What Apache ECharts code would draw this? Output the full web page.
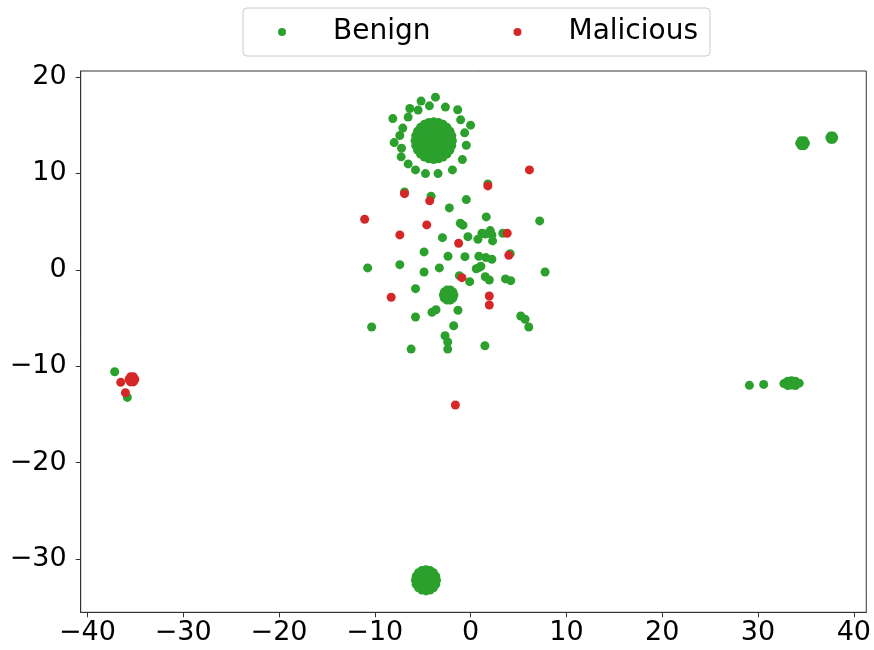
<!DOCTYPE html>
<html>
<head>
<meta charset="utf-8">
<script src="https://cdn.jsdelivr.net/npm/echarts@6/dist/echarts.min.js"></script>
<style>
  html, body { margin: 0; padding: 0; background: #fff; }
  #chart { width: 874px; height: 650px; }
</style>
</head>
<body>
<div id="chart"></div>
<script>
// Embedding coordinates of benign samples
const benignPoints = [
  // dense core of the upper cluster
  [-3.85, 13.38],
  [-3.20, 13.38], [-3.53, 13.94], [-4.18, 13.94], [-4.50, 13.38], [-4.18, 12.82], [-3.53, 12.82],
  [-2.55, 13.38], [-2.72, 14.03], [-3.20, 14.51], [-3.85, 14.68], [-4.50, 14.51], [-4.98, 14.03],
  [-5.15, 13.38], [-4.98, 12.73], [-4.50, 12.25], [-3.85, 12.08], [-3.20, 12.25], [-2.72, 12.73],
  [-1.90, 13.38], [-1.97, 13.89], [-2.16, 14.36], [-2.47, 14.76], [-2.88, 15.07], [-3.35, 15.26],
  [-3.85, 15.33], [-4.36, 15.26], [-4.83, 15.07], [-5.23, 14.76], [-5.54, 14.36], [-5.73, 13.89],
  [-5.80, 13.38], [-5.73, 12.87], [-5.54, 12.41], [-5.23, 12.00], [-4.83, 11.69], [-4.36, 11.50],
  [-3.85, 11.43], [-3.35, 11.50], [-2.88, 11.69], [-2.47, 12.00], [-2.16, 12.41], [-1.97, 12.87],
  // ring around the upper cluster
  [-3.67, 17.89], [-5.17, 17.48], [-6.35, 16.71], [-5.48, 16.55], [-4.30, 16.99], [-2.63, 16.86],
  [-1.35, 16.58], [-8.12, 15.67], [-6.52, 15.82], [-1.04, 15.54], [0.00, 14.99], [-7.08, 14.68],
  [-0.62, 14.19], [-7.39, 13.91], [-7.98, 13.18], [-0.45, 12.91], [-7.21, 12.60], [-7.25, 11.70],
  [-0.86, 11.42], [-6.52, 10.97], [-5.75, 10.35], [-1.90, 10.35], [-4.71, 9.97], [-3.40, 9.97],
  // central scatter
  [1.80, 8.90], [-6.90, 8.07], [-4.13, 7.62], [-0.45, 7.27], [-2.22, 6.41], [1.63, 5.48],
  [7.21, 5.06], [-1.07, 4.82], [-0.80, 4.62], [3.36, 3.79], [1.18, 3.79], [2.05, 4.06],
  [2.22, 3.61], [0.76, 3.16], [2.29, 2.99], [1.53, 3.71], [-0.28, 3.43], [-2.94, 3.33],
  [-4.86, 1.85], [-2.36, 1.40], [-0.59, 1.36], [0.86, 1.40], [1.59, 1.26], [2.22, 1.09],
  [4.13, 1.67], [-10.75, 0.19], [-7.39, 0.53], [-4.86, -0.23], [-3.26, 0.19], [0.86, 0.22],
  [0.59, 0.11], [1.07, 0.36], [7.77, -0.23], [-1.18, -0.61], [-0.10, -1.23], [1.53, -0.72],
  [1.95, -1.06], [3.64, -0.95], [4.19, -1.13], [-5.75, -1.96],
  // small clump below the centre
  [-2.29, -2.62], [-1.74, -2.62], [-1.85, -2.30], [-2.12, -2.10], [-2.46, -2.10], [-2.74, -2.30],
  [-2.84, -2.62], [-2.74, -2.94], [-2.46, -3.14], [-2.12, -3.14], [-1.85, -2.94],
  [-1.32, -4.20], [-4.03, -4.41], [-3.61, -4.14], [5.23, -4.79], [5.69, -5.13], [6.07, -5.93],
  [-5.75, -4.90], [-1.77, -5.80], [-10.33, -5.93], [-2.67, -6.84], [-2.39, -7.49], [-2.39, -8.22],
  [1.49, -7.87], [-6.21, -8.22],
  // lower cluster
  [-4.66, -32.18],
  [-4.11, -32.18], [-4.39, -31.70], [-4.94, -31.70], [-5.21, -32.18], [-4.94, -32.66], [-4.39, -32.66],
  [-3.56, -32.18], [-3.64, -31.76], [-3.88, -31.40], [-4.24, -31.16], [-4.66, -31.08], [-5.08, -31.16],
  [-5.44, -31.40], [-5.68, -31.76], [-5.76, -32.18], [-5.68, -32.60], [-5.44, -32.96], [-5.08, -33.20],
  [-4.66, -33.28], [-4.24, -33.20], [-3.88, -32.96], [-3.64, -32.60],
  // left group
  [-37.15, -10.57], [-35.83, -13.23],
  // right groups
  [34.65, 13.12], [34.95, 13.12], [34.80, 13.38], [34.50, 13.38], [34.35, 13.12], [34.50, 12.86], [34.80, 12.86],
  [37.70, 13.70], [37.90, 13.70], [37.80, 13.87], [37.60, 13.87], [37.50, 13.70], [37.60, 13.53], [37.80, 13.53],
  [29.10, -11.98], [30.59, -11.88],
  [32.70, -11.80], [33.10, -11.55], [33.10, -12.00], [33.50, -11.50], [33.50, -11.95],
  [33.90, -11.55], [33.90, -12.00], [34.30, -11.75]
];

// Embedding coordinates of malicious samples
const maliciousPoints = [
  [6.14, 10.35], [1.80, 8.69], [-6.90, 7.89], [-4.27, 7.14], [-11.06, 5.24], [-4.58, 4.65],
  [-7.39, 3.61], [3.82, 3.79], [-1.25, 2.75], [3.99, 1.50], [-0.91, -0.82], [1.95, -2.72],
  [1.95, -3.65], [-8.29, -2.85], [-1.59, -14.02],
  [-36.52, -11.67], [-36.03, -12.75],
  [-35.35, -11.36], [-35.05, -11.36], [-35.20, -11.10], [-35.50, -11.10], [-35.65, -11.36],
  [-35.50, -11.62], [-35.20, -11.62]
];

const seriesNames = ['Benign', 'Malicious'];
const xTicks = [-40, -30, -20, -10, 0, 10, 20, 30, 40];
const yTicks = [-30, -20, -10, 0, 10, 20];
const xRange = [-40.7, 41.3];
const yRange = [-35.5, 20.6];

const FONT = 'DejaVu Sans';
const minusSign = v => String(v).replace('-', '\u2212');

function valueAxis(range, ticks, isX) {
  return {
    type: 'value',
    min: range[0],
    max: range[1],
    splitLine: { show: false },
    axisLine: { show: true, onZero: false, lineStyle: { color: '#333', width: 1 } },
    axisTick: { show: true, inside: false, length: 5, customValues: ticks,
                lineStyle: { color: '#333', width: 1 } },
    axisLabel: {
      customValues: ticks,
      formatter: minusSign,
      color: '#000',
      fontFamily: FONT,
      fontSize: 27,
      margin: isX ? 7 : 14
    }
  };
}

const chart = echarts.init(document.getElementById('chart'), null, { renderer: 'canvas' });
chart.setOption({
  backgroundColor: '#fff',
  animation: false,
  grid: {
    left: 80.7, right: 4.7, top: 71, bottom: 37.7,
    show: true, borderColor: '#333', borderWidth: 1, backgroundColor: 'transparent'
  },
  legend: {
    data: seriesNames,
    left: 243,
    top: 8,
    orient: 'horizontal',
    icon: 'circle',
    itemWidth: 8,
    itemHeight: 8,
    itemGap: 83,
    padding: [10, 12, 10, 35],
    borderColor: '#ccc',
    borderWidth: 1,
    borderRadius: 4,
    textStyle: { fontFamily: FONT, fontSize: 28, color: '#000', padding: [0, 0, 0, 42] }
  },
  xAxis: valueAxis(xRange, xTicks, true),
  yAxis: valueAxis(yRange, yTicks, false),
  series: [
    {
      name: seriesNames[0],
      type: 'scatter',
      data: benignPoints,
      symbolSize: 9,
      itemStyle: { color: '#2ca02c', opacity: 1 }
    },
    {
      name: seriesNames[1],
      type: 'scatter',
      data: maliciousPoints,
      symbolSize: 9,
      itemStyle: { color: '#d62728', opacity: 1 }
    }
  ]
});
</script>
</body>
</html>
